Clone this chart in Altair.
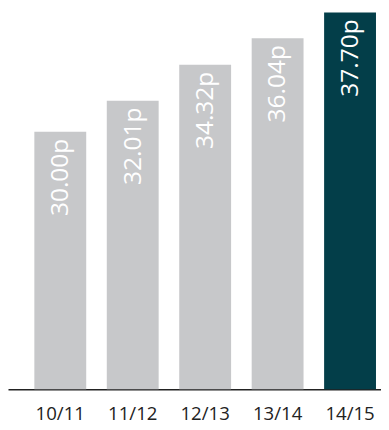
import altair as alt
import pandas as pd

years = ["10/11", "11/12", "12/13", "13/14", "14/15"]
values = [30.00, 32.01, 34.32, 36.04, 37.70]
highlight = "14/15"

df = pd.DataFrame({"year": years, "value": values})

GREY = "#c7c8ca"
DARK = "#033e49"

x = alt.X(
    "year:N",
    sort=years,
    title=None,
    scale=alt.Scale(paddingInner=0.284, paddingOuter=0.2165, align=0.84),
    axis=alt.Axis(
        labelAngle=0,
        ticks=False,
        grid=False,
        domainColor="#222222",
        domainWidth=1.5,
        labelColor="#222222",
        labelFontSize=19,
        labelFont="Open Sans",
        labelPadding=16,
        labelLimit=200,
    ),
)
y = alt.Y("value:Q", axis=None,
          scale=alt.Scale(domain=[13.4, 37.7], nice=False, zero=False, clamp=True))

base = alt.Chart(df).encode(x=x, y=y)

bars = base.mark_bar().encode(
    color=alt.condition(alt.datum.year == highlight, alt.value(DARK), alt.value(GREY))
)

labels = base.transform_calculate(
    label="format(datum.value, '.2f') + 'p'"
).mark_text(
    angle=270,
    align="right",
    baseline="middle",
    dx=-7,
    color="white",
    fontSize=25,
    font="Open Sans",
).encode(text="label:N")

chart = (
    alt.layer(bars, labels)
    .properties(width=381, height=385, padding=0)
    .configure_view(stroke=None)
)

chart.save("out.html", embed_options={"renderer": "svg", "actions": False})
